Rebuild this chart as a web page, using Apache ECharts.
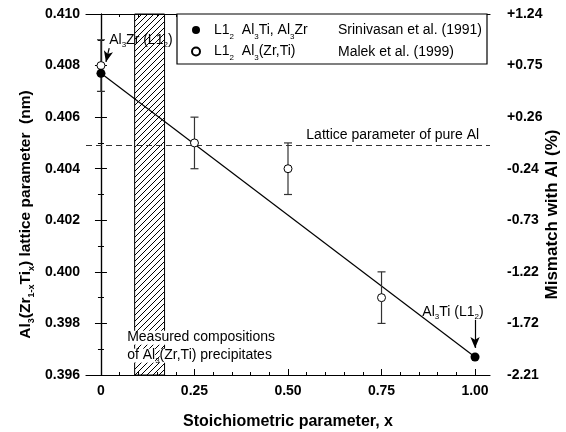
<!DOCTYPE html>
<html>
<head>
<meta charset="utf-8">
<script src="https://cdn.jsdelivr.net/npm/echarts@6.0.0/dist/echarts.min.js"></script>
<style>
  html, body { margin: 0; padding: 0; background: #fff; }
  #chart { width: 566px; height: 432px; }
</style>
</head>
<body>
<div id="chart"></div>
<script>
// Srinivasan et al. (1991) - L1_2 Al3Ti, Al3Zr
const srinX = [0, 1.0];
const srinY = [0.4077, 0.3967];
// Malek et al. (1999) - L1_2 Al3(Zr,Ti)
const malekX = [0, 0.25, 0.5, 0.75];
const malekY = [0.408, 0.405, 0.404, 0.399];
const malekErr = [0.001, 0.001, 0.001, 0.001];
// straight line Al3Zr -> Al3Ti
const fitX = [0, 1.0];
const fitY = [0.4077, 0.3967];
// lattice parameter of pure Al
const pureAl = 0.4049;
// measured compositions band
const bandX = [0.09, 0.17];
// ticks
const xMajor = [0, 0.25, 0.5, 0.75, 1.0];
const xMinor = [0, 0.05, 0.1, 0.15, 0.2, 0.25, 0.3, 0.35, 0.4, 0.45, 0.5,
  0.55, 0.6, 0.65, 0.7, 0.75, 0.8, 0.85, 0.9, 0.95, 1.0];
const yMin = 0.396, yMax = 0.410, yStep = 0.002;
const mismatchLabels = ['-2.21', '-1.72', '-1.22', '-0.73', '-0.24', '+0.26', '+0.75', '+1.24'];

const FONT = 'Liberation Sans, Arial, sans-serif';

function subRich(size, lh) {
  return {
    n: { fontFamily: FONT, fontSize: size, lineHeight: lh, color: '#000' },
    s: { fontFamily: FONT, fontSize: Math.round(size * 0.6), lineHeight: Math.round(size * 0.6), verticalAlign: 'bottom', color: '#000' }
  };
}
function boldRich(size, lh) {
  const r = subRich(size, lh);
  r.n.fontWeight = 'bold';
  r.s.fontWeight = 'bold';
  return r;
}

function hatch() {
  const c = document.createElement('canvas');
  c.width = 6; c.height = 6;
  const g = c.getContext('2d');
  g.strokeStyle = '#000';
  g.lineWidth = 1;
  g.beginPath();
  g.moveTo(0, 6); g.lineTo(6, 0);
  g.moveTo(-1, 1); g.lineTo(1, -1);
  g.moveTo(5, 7); g.lineTo(7, 5);
  g.stroke();
  return c;
}

const axisLine = { show: true, lineStyle: { color: '#000', width: 1.2 } };
const tickLabel = { color: '#000', fontFamily: FONT, fontSize: 14, fontWeight: 'bold' };

function xAx(pos, ticks, len, labels) {
  return {
    type: 'value', position: pos, min: -0.04, max: 1.04,
    axisLine: labels || pos === 'top' && len > 4 ? axisLine : { show: false },
    axisTick: { show: true, inside: true, length: len, customValues: ticks, lineStyle: { color: '#000', width: 1 } },
    axisLabel: labels ? Object.assign({ customValues: ticks, margin: 9,
      formatter: v => v === 0 ? '0' : v.toFixed(2) }, tickLabel) : { show: false },
    splitLine: { show: false }
  };
}

const bottomAx = xAx('bottom', xMajor, 6, true);
bottomAx.name = 'Stoichiometric parameter, x';
bottomAx.nameLocation = 'middle';
bottomAx.nameGap = 39;
bottomAx.nameMoveOverlap = false;
bottomAx.nameTextStyle = { fontFamily: FONT, fontSize: 16, fontWeight: 'bold', color: '#000' };

const option = {
  animation: false,
  backgroundColor: '#fff',
  grid: { left: 86, right: 76, top: 14, bottom: 57, outerBoundsMode: 'none', containLabel: false },
  xAxis: [
    bottomAx,
    xAx('bottom', xMinor, 3, false),
    xAx('top', xMajor, 6, false),
    xAx('top', xMinor, 3, false)
  ],
  yAxis: [
    {
      type: 'value', position: 'left', min: yMin, max: yMax, interval: yStep,
      axisLine: axisLine,
      axisTick: { inside: true, length: 6, lineStyle: { color: '#000' } },
      minorTick: { show: true, splitNumber: 2, length: 3, lineStyle: { color: '#000' } },
      axisLabel: Object.assign({ margin: 6, formatter: v => v.toFixed(3) }, tickLabel),
      splitLine: { show: false },
      name: '{n|Al}{s|3}{n|(Zr}{s|1-x}{n|Ti}{s|x}{n|) lattice parameter  (nm)}',
      nameLocation: 'middle', nameGap: 50, nameRotate: 90, nameMoveOverlap: false,
      nameTextStyle: { rich: boldRich(15.5, 20), padding: [0, 40, 0, 0] }
    },
    {
      type: 'value', position: 'right', min: yMin, max: yMax, interval: yStep,
      axisLine: axisLine,
      axisTick: { inside: true, length: 6, lineStyle: { color: '#000' } },
      minorTick: { show: true, splitNumber: 2, length: 3, lineStyle: { color: '#000' } },
      axisLabel: Object.assign({ margin: 17,
        formatter: v => mismatchLabels[Math.round((v - yMin) / yStep)] }, tickLabel),
      splitLine: { show: false },
      name: 'Mismatch with Al (%)',
      nameLocation: 'middle', nameGap: 54, nameRotate: 90, nameMoveOverlap: false,
      nameTextStyle: { fontFamily: FONT, fontSize: 17, fontWeight: 'bold', color: '#000', padding: [0, 40, 0, 0] }
    }
  ],
  legend: {
    orient: 'vertical', left: 177, top: 14, padding: [9, 0, 0, 14],
    itemWidth: 8, itemHeight: 8, itemGap: 4,
    data: ['Srinivasan', 'Malek'],
    formatter: name => name === 'Srinivasan'
      ? '{n|L1}{s|2}{n|  Al}{s|3}{n|Ti, Al}{s|3}{n|Zr}'
      : '{n|L1}{s|2}{n|  Al}{s|3}{n|(Zr,Ti)}',
    textStyle: { rich: subRich(14, 21), padding: [0, 0, 0, 9] },
    selectedMode: false
  },
  series: [
    {
      name: 'fit', type: 'line', xAxisIndex: 0, yAxisIndex: 0,
      data: fitX.map((x, i) => [x, fitY[i]]),
      showSymbol: false, lineStyle: { color: '#000', width: 1.2 }, z: 3,
      markArea: {
        silent: true,
        itemStyle: { color: { image: hatch(), repeat: 'repeat' }, borderColor: '#000', borderWidth: 1 },
        data: [[{ xAxis: bandX[0] }, { xAxis: bandX[1] }]]
      },
      markLine: {
        silent: true, label: { show: false }, precision: 5,
        lineStyle: { color: '#333', width: 1.2, type: [6, 4] },
        symbol: 'none',
        data: [{ yAxis: pureAl }]
      }
    },
    {
      name: 'arrows', type: 'line', xAxisIndex: 0, yAxisIndex: 0, data: [],
      markLine: {
        silent: true, label: { show: false }, precision: 5,
        lineStyle: { color: '#000', width: 1.2, type: 'solid' },
        symbol: ['none', 'arrow'], symbolSize: 10,
        data: [
          [{ coord: [0.022, 0.40868], symbol: 'none' }, { coord: [0.0134, 0.40814], symbol: 'arrow', symbolSize: [7, 11] }],
          [{ coord: [1.0, 0.39814], symbol: 'none' }, { coord: [1.0, 0.39705], symbol: 'arrow', symbolSize: [7, 11] }]
        ]
      }
    },
    {
      name: 'errors', type: 'custom', xAxisIndex: 0, yAxisIndex: 0, z: 4,
      data: malekX.map((x, i) => [x, malekY[i] - malekErr[i], malekY[i] + malekErr[i]]),
      renderItem(params, api) {
        const x = api.value(0);
        const lo = api.coord([x, api.value(1)]);
        const hi = api.coord([x, api.value(2)]);
        const w = 4;
        const st = { stroke: '#333', lineWidth: 1.2 };
        return {
          type: 'group', children: [
            { type: 'line', shape: { x1: lo[0], y1: lo[1], x2: hi[0], y2: hi[1] }, style: st },
            { type: 'line', shape: { x1: lo[0] - w, y1: lo[1], x2: lo[0] + w, y2: lo[1] }, style: st },
            { type: 'line', shape: { x1: hi[0] - w, y1: hi[1], x2: hi[0] + w, y2: hi[1] }, style: st }
          ]
        };
      }
    },
    {
      name: 'Malek', type: 'scatter', xAxisIndex: 0, yAxisIndex: 0, z: 5,
      data: malekX.map((x, i) => [x, malekY[i]]),
      symbol: 'circle', symbolSize: 8,
      itemStyle: { color: '#fff', borderColor: '#000', borderWidth: 1, opacity: 1 }
    },
    {
      name: 'Srinivasan', type: 'scatter', xAxisIndex: 0, yAxisIndex: 0, z: 6,
      data: srinX.map((x, i) => [x, srinY[i]]),
      symbol: 'circle', symbolSize: 9,
      itemStyle: { color: '#000', opacity: 1 }
    }
  ]
};

const chart = echarts.init(document.getElementById('chart'));
chart.setOption(option);

const px = (x, y) => chart.convertToPixel({ xAxisIndex: 0, yAxisIndex: 0 }, [x, y]);
const ann = (x, y, text, extra) => {
  const p = px(x, y);
  return {
    type: 'text', z: 50, x: p[0], y: p[1], silent: true,
    style: Object.assign({ text: text, rich: subRich(14, 18), align: 'left', verticalAlign: 'middle' }, extra || {})
  };
};
const boxRich = subRich(14, 18);
boxRich.n.backgroundColor = '#fff';

chart.setOption({
  graphic: [
    { type: 'rect', z: 1, shape: { x: 177, y: 14, width: 310, height: 50 },
      style: { fill: '#fff', stroke: '#000', lineWidth: 1.2 }, silent: true },
    { type: 'text', z: 50, x: 338, y: 30, style: { text: 'Srinivasan et al. (1991)', font: '14px ' + FONT, fill: '#000', verticalAlign: 'middle' } },
    { type: 'text', z: 50, x: 338, y: 52, style: { text: 'Malek et al. (1999)', font: '14px ' + FONT, fill: '#000', verticalAlign: 'middle' } },
    ann(0.022, 0.40899, '{n|Al}{s|3}{n|Zr (L1}{s|2}{n|)}'),
    ann(0.859, 0.39845, '{n|Al}{s|3}{n|Ti (L1}{s|2}{n|)}'),
    ann(0.549, 0.40531, '{n|Lattice parameter of pure Al}'),
    ann(0.070, 0.39710, '{n|Measured compositions}\n{n|of Al}{s|3}{n|(Zr,Ti) precipitates}',
      { rich: boxRich, verticalAlign: 'middle' })
  ]
});
window.addEventListener('resize', () => chart.resize());
</script>
</body>
</html>
